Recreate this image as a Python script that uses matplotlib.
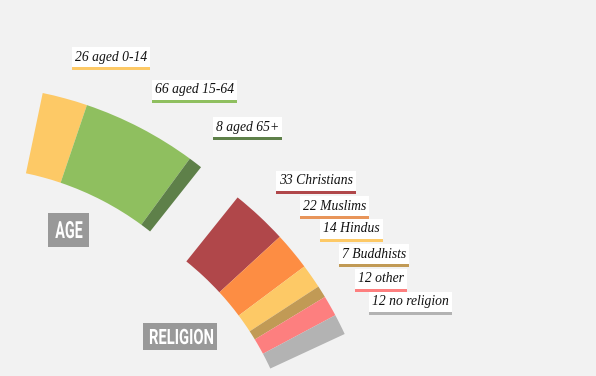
import matplotlib
matplotlib.use("Agg")
import matplotlib.pyplot as plt
from matplotlib.patches import Wedge, Rectangle
from matplotlib.patheffects import AbstractPathEffect
from matplotlib.transforms import Affine2D

# ---- data ----
age_names = ["aged 0-14", "aged 15-64", "aged 65+"]
age_values = [26, 66, 8]
religion_names = ["Christians", "Muslims", "Hindus", "Buddhists", "other", "no religion"]
religion_values = [33, 22, 14, 7, 12, 12]

# ---- styles / layout ----
age_colors = ["#FDC966", "#8FBF5F", "#5E8049"]
religion_colors = ["#B0474A", "#FD8D43", "#FDC966", "#C19A55", "#FD7F7F", "#B3B3B3"]
age_bar_colors = ["#FDC966", "#8FBF5F", "#5E8049"]
religion_bar_colors = ["#B0474A", "#E8955A", "#FDC966", "#C19A55", "#FD7F7F", "#B3B3B3"]

W, H = 596, 376
fig = plt.figure(figsize=(W / 100, H / 100), dpi=100, facecolor="#F2F2F2")
ax = fig.add_axes([0, 0, 1, 1])
ax.set_xlim(0, W)
ax.set_ylim(0, H)
ax.set_aspect("equal")
ax.axis("off")
ax.set_facecolor("#F2F2F2")

R_OUT, R_IN = 380, 298


def ring(center, start_deg, span_deg, values, colors):
    total = sum(values)
    a = start_deg
    for v, c in zip(values, colors):
        da = span_deg * v / total
        ax.add_patch(Wedge(center, R_OUT, a - da, a, width=R_OUT - R_IN,
                           facecolor=c, edgecolor="none"))
        a -= da


# centres in pixel coords (y up)
ring((-35, H - 465), 78.2, 26.6, age_values, age_colors)
ring((0, H - 494), 51.3, 26.4, religion_values, religion_colors)

# labels: (left x, centre y) in pixel coordinates (y down)
age_label_pos = [(75, 57), (155, 90), (216, 127)]
religion_label_pos = [(279, 181), (303, 206), (323, 229), (342, 254), (358, 279), (372, 302)]

texts = []
for (n, v, c, p) in list(zip(age_names, age_values, age_bar_colors, age_label_pos)) + \
        list(zip(religion_names, religion_values, religion_bar_colors, religion_label_pos)):
    t = ax.text(p[0], H - p[1], f"{v} {n}", fontsize=9.8, family="Liberation Serif",
                style="italic", ha="left", va="center", color="#111111",
                bbox=dict(facecolor="white", edgecolor="none", pad=2.3))
    texts.append((t, c))


class Condense(AbstractPathEffect):
    """Squeeze text horizontally around its anchor point."""

    def __init__(self, anchor_data, sx):
        super().__init__()
        self.anchor_data = anchor_data
        self.sx = sx

    def draw_path(self, renderer, gc, tpath, affine, rgbFace=None):
        cx, cy = ax.transData.transform(self.anchor_data)
        squeeze = Affine2D().translate(-cx, -cy).scale(self.sx, 1).translate(cx, cy)
        renderer.draw_path(gc, tpath, affine + squeeze, rgbFace)


# section titles: (centre x, baseline y), box extents, target text width, font size
titles = []
for label, (x, yb), (bx0, by0, bx1, by1), target_w, fs in [
        ("AGE", (69, 238), (48, 213, 89, 247), 27.5, 17.0),
        ("RELIGION", (181.5, 344), (143, 323, 217, 350), 65.0, 15.2)]:
    ax.add_patch(Rectangle((bx0, H - by1), bx1 - bx0, by1 - by0,
                           facecolor="#999999", edgecolor="none"))
    eff = Condense((x, H - yb), 1.0)
    t = ax.text(x, H - yb, label, fontsize=fs, family="Roboto",
                fontweight="bold", color="white", ha="center", va="baseline",
                path_effects=[eff])
    titles.append((t, eff, target_w))

fig.canvas.draw()
renderer = fig.canvas.get_renderer()
inv = ax.transData.inverted()
for t, c in texts:
    bb = t.get_bbox_patch().get_window_extent()
    (x0, y0), (x1, y1) = inv.transform([(bb.x0, bb.y0), (bb.x1, bb.y1)])
    ax.add_patch(Rectangle((x0, y0 - 3), x1 - x0, 3, facecolor=c, edgecolor="none"))

for t, eff, target_w in titles:
    w = t.get_window_extent(renderer).width
    eff.sx = target_w / w

fig.savefig("out.png", dpi=100, facecolor=fig.get_facecolor())
